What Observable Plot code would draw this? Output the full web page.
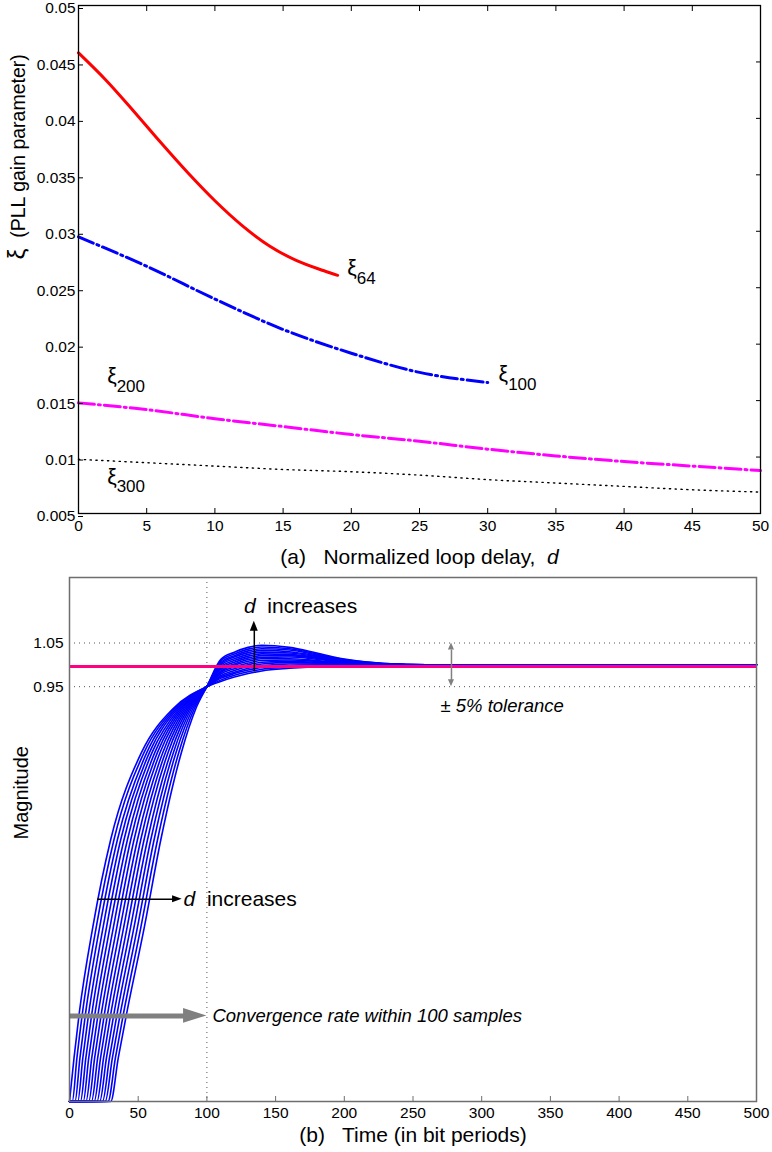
<!DOCTYPE html>
<html><head><meta charset="utf-8">
<script src="https://cdn.jsdelivr.net/npm/d3@7"></script>
<script src="https://cdn.jsdelivr.net/npm/@observablehq/plot@0.6"></script>
<style>
body{margin:0;background:#fff;}
#page{position:relative;width:772px;height:1152px;overflow:hidden;background:#fff;}
#page svg{position:absolute;left:0;overflow:visible;}
#page text{white-space:pre;}
#page g[aria-label="x-axis tick label"] text, #page g[aria-label="y-axis tick label"] text{font-size:15.5px;}
</style></head><body><div id="page"></div>
<script>
// ================= Panel (a) data =================
const xi64D = [0, 2, 4, 6, 8, 10, 12, 14, 16, 18, 19];
const xi64 = [0.0458, 0.0434, 0.0407, 0.0379, 0.0352, 0.0327, 0.0305, 0.0287, 0.0274, 0.0265, 0.0261];
const xi100D = [0, 5, 10, 15, 20, 25, 30];
const xi100 = [0.0295, 0.0269, 0.0240, 0.0213, 0.0192, 0.0175, 0.0166];
const dGrid = [0, 5, 10, 15, 20, 25, 30, 35, 40, 45, 50];
const xi200 = [0.0148, 0.0142, 0.0134, 0.0127, 0.0120, 0.0114, 0.0107, 0.0101, 0.0096, 0.0092, 0.0088];
const xi300 = [0.0098, 0.0095, 0.0092, 0.0089, 0.0087, 0.0084, 0.0080, 0.0077, 0.0074, 0.0071, 0.0069];
const xTicksA = [0, 5, 10, 15, 20, 25, 30, 35, 40, 45, 50];
const yTicksA = [0.005, 0.01, 0.015, 0.02, 0.025, 0.03, 0.035, 0.04, 0.045, 0.05];
const curveNames = ["64", "100", "200", "300"];
const curveLabelD = [19.7, 30.8, 2.1, 2.1];
const curveLabelV = [0.0266, 0.0172, 0.0170, 0.0081];

// ================= Panel (b) data =================
const riseLevels = [0, 0.1, 0.2, 0.4, 0.6, 0.8, 0.9, 0.95];
// time (bit periods) at which each response reaches each rise level, one row per delay d
const riseTimes = [
  [0, 3.3, 7.0, 17.0, 30.0, 52.5, 75.5, 100],
  [2, 5.4, 9.3, 19.5, 32.4, 54.4, 76.6, 100],
  [4, 7.6, 11.6, 22.0, 34.9, 56.4, 77.7, 100],
  [6, 9.7, 13.9, 24.5, 37.3, 58.3, 78.8, 100],
  [8, 11.9, 16.2, 27.0, 39.7, 60.2, 79.9, 100],
  [10, 14.0, 18.5, 29.5, 42.2, 62.2, 81.0, 100],
  [12, 16.2, 20.8, 32.0, 44.6, 64.1, 82.1, 100],
  [14, 18.3, 23.1, 34.5, 47.0, 66.0, 83.2, 100],
  [16, 20.5, 25.4, 37.0, 49.5, 68.0, 84.3, 100],
  [18, 22.6, 27.7, 39.5, 51.9, 69.9, 85.4, 100],
  [20, 24.8, 30.0, 42.0, 54.3, 71.8, 86.5, 100],
  [22, 26.9, 32.3, 44.5, 56.8, 73.8, 87.6, 100],
  [24, 29.1, 34.6, 47.0, 59.2, 75.7, 88.7, 100],
  [26, 31.2, 36.9, 49.5, 61.6, 77.6, 89.8, 100],
  [28, 33.4, 39.2, 52.0, 64.1, 79.6, 90.9, 100],
  [30, 35.5, 41.5, 54.5, 66.5, 81.5, 92.0, 100]
];
const tailTimes = [110, 120, 130, 140, 160, 180, 200, 230, 260, 500];
const tailValues = [
  [0.962, 0.972, 0.980, 0.986, 0.992, 0.996, 0.998, 0.999, 1, 1],
  [0.965, 0.976, 0.984, 0.990, 0.995, 0.998, 0.999, 0.999, 1, 1],
  [0.969, 0.980, 0.988, 0.994, 0.998, 1.000, 1.000, 0.999, 1, 1],
  [0.972, 0.983, 0.992, 0.998, 1.002, 1.002, 1.001, 0.999, 1, 1],
  [0.975, 0.987, 0.996, 1.002, 1.005, 1.004, 1.002, 1.000, 1, 1],
  [0.979, 0.991, 1.000, 1.006, 1.008, 1.006, 1.003, 1.000, 1, 1],
  [0.982, 0.995, 1.004, 1.010, 1.011, 1.008, 1.004, 1.000, 1, 1],
  [0.985, 0.999, 1.008, 1.014, 1.014, 1.010, 1.005, 1.001, 1, 1],
  [0.989, 1.002, 1.012, 1.017, 1.018, 1.013, 1.006, 1.001, 1, 1],
  [0.992, 1.006, 1.016, 1.021, 1.021, 1.015, 1.007, 1.001, 1, 1],
  [0.995, 1.010, 1.020, 1.025, 1.024, 1.017, 1.008, 1.002, 1, 1],
  [0.999, 1.014, 1.024, 1.029, 1.027, 1.019, 1.009, 1.002, 1, 1],
  [1.002, 1.018, 1.028, 1.033, 1.030, 1.021, 1.010, 1.002, 1, 1],
  [1.005, 1.021, 1.032, 1.037, 1.034, 1.023, 1.011, 1.002, 1, 1],
  [1.009, 1.025, 1.036, 1.041, 1.037, 1.025, 1.012, 1.003, 1, 1],
  [1.012, 1.029, 1.040, 1.045, 1.040, 1.027, 1.013, 1.003, 1, 1]
];
const referenceLevel = 0.996;
const toleranceBand = [0.95, 1.05];
const convergenceTime = 100;
const xTicksB = [0, 50, 100, 150, 200, 250, 300, 350, 400, 450, 500];

// ================= helpers =================
const FONT = '"Liberation Sans", Arial, Helvetica, sans-serif';
const SVGNS = "http://www.w3.org/2000/svg";
function richify(svg) {
  svg.querySelectorAll("text").forEach(t => {
    const s = t.textContent;
    if (!/\{(i|sub|big):/.test(s)) return;
    t.textContent = "";
    const re = /\{(i|sub|big):([^}]*)\}|([^{]+)/g;
    let m;
    while ((m = re.exec(s))) {
      const ts = document.createElementNS(SVGNS, "tspan");
      if (m[3] !== undefined) ts.textContent = m[3];
      else if (m[1] === "i") { ts.textContent = m[2]; ts.setAttribute("font-style", "italic"); }
      else if (m[1] === "big") { ts.textContent = m[2]; ts.setAttribute("font-size", "1.25em"); }
      else { ts.textContent = m[2]; ts.setAttribute("dy", "0.5em"); }
      t.appendChild(ts);
    }
  });
}

// ================= Panel (a) =================
const rowsA = [];
xi64D.forEach((d, i) => rowsA.push({s: "64", d, v: xi64[i]}));
xi100D.forEach((d, i) => rowsA.push({s: "100", d, v: xi100[i]}));
dGrid.forEach((d, i) => rowsA.push({s: "200", d, v: xi200[i]}));
dGrid.forEach((d, i) => rowsA.push({s: "300", d, v: xi300[i]}));
const labelsA = curveNames.map((n, i) => ({n, d: curveLabelD[i], v: curveLabelV[i]}));

const plotA = Plot.plot({
  width: 772, height: 575,
  marginTop: 5, marginBottom: 62, marginLeft: 78, marginRight: 12,
  x: {domain: [0, 50]},
  y: {domain: [0.005, 0.05]},
  style: {fontFamily: FONT, fontSize: "15px", color: "#000", background: "transparent"},
  marks: [
    Plot.line(rowsA.filter(r => r.s === "300"), {x: "d", y: "v", stroke: "#000", strokeWidth: 1.4, strokeDasharray: "1.3,4.5", curve: "monotone-x"}),
    Plot.line(rowsA.filter(r => r.s === "200"), {x: "d", y: "v", stroke: "#ff00ff", strokeWidth: 3, strokeDasharray: "16,4,2,4", curve: "monotone-x"}),
    Plot.line(rowsA.filter(r => r.s === "100"), {x: "d", y: "v", stroke: "#0000ff", strokeWidth: 3, strokeDasharray: "16,4,2,4", curve: "monotone-x"}),
    Plot.line(rowsA.filter(r => r.s === "64"), {x: "d", y: "v", stroke: "#ff0000", strokeWidth: 3, curve: "monotone-x"}),
    Plot.text(labelsA, {x: "d", y: "v", text: d => `{big:ξ}{sub:${d.n}}`, textAnchor: "start", fontSize: 17, fill: "#000"}),
    Plot.frame({stroke: "#000", strokeWidth: 1.3}),
    Plot.axisX(xTicksA, {anchor: "bottom", tickSize: -5, tickPadding: 11, label: null}),
    Plot.axisX(xTicksA, {anchor: "top", tickSize: -5, tickFormat: () => "", label: null}),
    Plot.axisY(yTicksA, {anchor: "left", tickSize: -5, tickPadding: 8, dy: 3, tickFormat: d => String(d), label: null}),
    Plot.axisY(yTicksA, {anchor: "right", tickSize: -5, tickFormat: () => "", label: null}),
    Plot.text(["(a)   Normalized loop delay,  {i:d}"], {frameAnchor: "bottom", dy: 44, fontSize: 21, lineAnchor: "middle"}),
    Plot.text(["{big:ξ}  (PLL gain parameter)"], {frameAnchor: "left", dx: -60, rotate: -90, fontSize: 19.5, lineAnchor: "middle"})
  ]
});
plotA.style.top = "0px";
richify(plotA);
document.getElementById("page").appendChild(plotA);

// ================= Panel (b) =================
const stepRows = [];
riseTimes.forEach((times, k) => {
  if (times[0] > 0) stepRows.push({k, t: 0, v: 0});
  times.forEach((t, i) => stepRows.push({k, t, v: riseLevels[i]}));
  tailTimes.forEach((t, i) => stepRows.push({k, t, v: tailValues[k][i]}));
});

const GRAY = "#808080";
const plotB = Plot.plot({
  width: 772, height: 580,
  marginTop: 5, marginBottom: 51, marginLeft: 69, marginRight: 16,
  x: {domain: [0, 500]},
  y: {domain: [0, 1.2]},
  style: {fontFamily: FONT, fontSize: "15px", color: "#000", background: "transparent"},
  marks: [
    Plot.ruleY(toleranceBand, {stroke: "#555", strokeWidth: 1, strokeDasharray: "1,4"}),
    Plot.ruleX([convergenceTime], {stroke: "#555", strokeWidth: 1, strokeDasharray: "1,4"}),
    Plot.line(stepRows, {x: "t", y: "v", z: "k", stroke: "#0000ff", strokeWidth: 1.6, curve: "monotone-x"}),
    Plot.ruleY([referenceLevel], {stroke: "#ff0080", strokeWidth: 3}),
    // up arrow "d increases"
    Plot.link([{x: 134.5, y1: 0.985, y2: 1.08}], {x1: "x", x2: "x", y1: "y1", y2: "y2", stroke: "#000", strokeWidth: 1.5}),
    Plot.areaX([{y: 1.077, a: 131.6, b: 137.4}, {y: 1.10, a: 134.5, b: 134.5}], {y: "y", x1: "a", x2: "b", fill: "#000"}),
    Plot.text(["{i:d}  increases"], {x: 127, y: 1.134, textAnchor: "start", fontSize: 21, lineAnchor: "middle"}),
    // right arrow "d increases"
    Plot.link([{x1: 20, x2: 76, y: 0.463}], {x1: "x1", x2: "x2", y1: "y", y2: "y", stroke: "#000", strokeWidth: 1.5}),
    Plot.areaY([{x: 75, a: 0.455, b: 0.471}, {x: 82, a: 0.463, b: 0.463}], {x: "x", y1: "a", y2: "b", fill: "#000"}),
    Plot.text(["{i:d}  increases"], {x: 83, y: 0.463, textAnchor: "start", fontSize: 21, lineAnchor: "middle"}),
    // tolerance double arrow
    Plot.link([{x: 278, y1: 0.965, y2: 1.035}], {x1: "x", x2: "x", y1: "y1", y2: "y2", stroke: GRAY, strokeWidth: 1.5}),
    Plot.areaX([{y: 1.034, a: 275.8, b: 280.2}, {y: 1.05, a: 278, b: 278}], {y: "y", x1: "a", x2: "b", fill: GRAY}),
    Plot.areaX([{y: 0.95, a: 278, b: 278}, {y: 0.966, a: 275.8, b: 280.2}], {y: "y", x1: "a", x2: "b", fill: GRAY}),
    Plot.text(["± 5% tolerance"], {x: 270, y: 0.905, textAnchor: "start", fontSize: 18.5, fontStyle: "italic", lineAnchor: "middle"}),
    // convergence arrow
    Plot.link([{x1: 0, x2: 84, y: 0.196}], {x1: "x1", x2: "x2", y1: "y", y2: "y", stroke: GRAY, strokeWidth: 5}),
    Plot.areaY([{x: 83, a: 0.179, b: 0.213}, {x: 100, a: 0.196, b: 0.196}], {x: "x", y1: "a", y2: "b", fill: GRAY}),
    Plot.text(["Convergence rate within 100 samples"], {x: 104, y: 0.196, textAnchor: "start", fontSize: 18.5, fontStyle: "italic", lineAnchor: "middle"}),
    Plot.frame({stroke: "#6e6e6e", strokeWidth: 1.5}),
    Plot.axisX(xTicksB, {anchor: "bottom", tickSize: -5, tickPadding: 10, label: null, stroke: "#6e6e6e"}),
    Plot.axisY(toleranceBand, {anchor: "left", tickSize: 0, tickPadding: 6, tickFormat: d => String(d), label: null}),
    Plot.text(["(b)   Time (in bit periods)"], {frameAnchor: "bottom", dy: 34, fontSize: 21, lineAnchor: "middle"}),
    Plot.text(["Magnitude"], {frameAnchor: "left", dx: -48, rotate: -90, fontSize: 20, lineAnchor: "middle"})
  ]
});
plotB.style.top = "572px";
richify(plotB);
document.getElementById("page").appendChild(plotB);
</script></body></html>
